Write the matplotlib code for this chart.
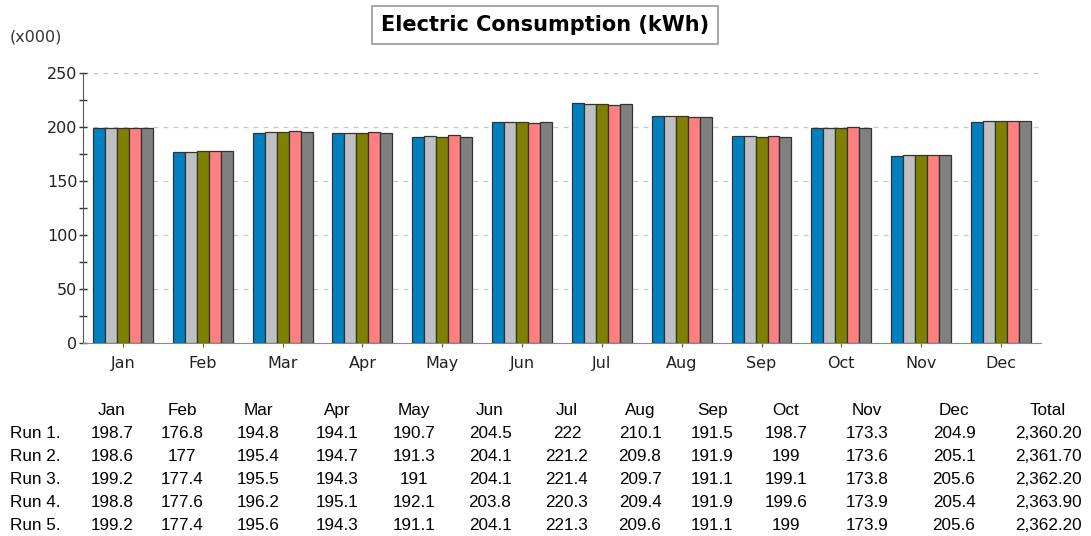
import numpy as np
import matplotlib
matplotlib.use("Agg")
import matplotlib.pyplot as plt
from matplotlib.ticker import MultipleLocator

# Data (thousands of kWh)
months = ["Jan", "Feb", "Mar", "Apr", "May", "Jun", "Jul", "Aug", "Sep", "Oct", "Nov", "Dec"]
run_names = ["Run 1.", "Run 2.", "Run 3.", "Run 4.", "Run 5."]
run1 = [198.7, 176.8, 194.8, 194.1, 190.7, 204.5, 222, 210.1, 191.5, 198.7, 173.3, 204.9]
run2 = [198.6, 177, 195.4, 194.7, 191.3, 204.1, 221.2, 209.8, 191.9, 199, 173.6, 205.1]
run3 = [199.2, 177.4, 195.5, 194.3, 191, 204.1, 221.4, 209.7, 191.1, 199.1, 173.8, 205.6]
run4 = [198.8, 177.6, 196.2, 195.1, 192.1, 203.8, 220.3, 209.4, 191.9, 199.6, 173.9, 205.4]
run5 = [199.2, 177.4, 195.6, 194.3, 191.1, 204.1, 221.3, 209.6, 191.1, 199, 173.9, 205.6]
totals = [2360.20, 2361.70, 2362.20, 2363.90, 2362.20]

runs = [run1, run2, run3, run4, run5]
colors = ["#0080c0", "#c0c0c0", "#808000", "#ff8080", "#808080"]

fig = plt.figure(figsize=(10.91, 5.36), dpi=100)
ax = fig.add_axes([0.0761, 0.360, 0.878, 0.504])

x = np.arange(len(months))
bar_w = 0.15
for i, vals in enumerate(runs):
    ax.bar(x + (i - 2) * bar_w, vals, width=bar_w, color=colors[i],
           edgecolor="#333333", linewidth=0.9, zorder=3)

ax.set_xlim(-0.5, 11.5)
ax.set_ylim(0, 250)
ax.yaxis.set_major_locator(MultipleLocator(50))
ax.yaxis.set_minor_locator(MultipleLocator(25))
ax.set_xticks(x)
ax.set_xticklabels(months)

ax.grid(axis="y", linestyle=(0, (4, 4)), color="#c8c8c8", linewidth=0.9, zorder=0)
ax.spines["top"].set_visible(False)
ax.spines["right"].set_visible(False)
ax.spines["left"].set_color("#555555")
ax.spines["bottom"].set_color("#888888")
ax.tick_params(axis="y", which="both", direction="inout", length=6, width=1,
               color="#333333", labelsize=11.5, labelcolor="#222222", pad=1)
ax.tick_params(axis="x", direction="out", length=3, color="#555555",
               labelsize=11.5, labelcolor="#222222", pad=6)

fig.text(0.009, 0.931, "(x000)", fontsize=11.5, color="#333333", va="center")

fig.text(0.4995, 0.953, "Electric Consumption (kWh)", fontsize=15, fontweight="bold",
         ha="center", va="center",
         bbox=dict(boxstyle="square,pad=0.42", facecolor="white", edgecolor="#999999",
                   linewidth=1.2))

# table under the chart
col_x = [112, 182, 258, 337, 414, 490, 567, 640, 712, 786, 867, 954]
total_x = 1048
row_base = [415, 438, 461, 484, 507, 530]
W, H = 1091.0, 536.0
tfont = dict(family="Liberation Sans", fontsize=12.3, color="black", va="baseline", ha="center")

for j, m in enumerate(months):
    fig.text(col_x[j] / W, 1 - row_base[0] / H, m, **tfont)
fig.text(total_x / W, 1 - row_base[0] / H, "Total", **tfont)

for r, vals in enumerate(runs):
    yy = 1 - row_base[r + 1] / H
    fig.text(10 / W, yy, run_names[r], family="Liberation Sans", fontsize=12.3,
             va="baseline", ha="left")
    for j, v in enumerate(vals):
        fig.text(col_x[j] / W, yy, "%g" % v, **tfont)
    fig.text(total_x / W, yy, "{:,.2f}".format(totals[r]), **tfont)

fig.savefig("out.png", dpi=100)
